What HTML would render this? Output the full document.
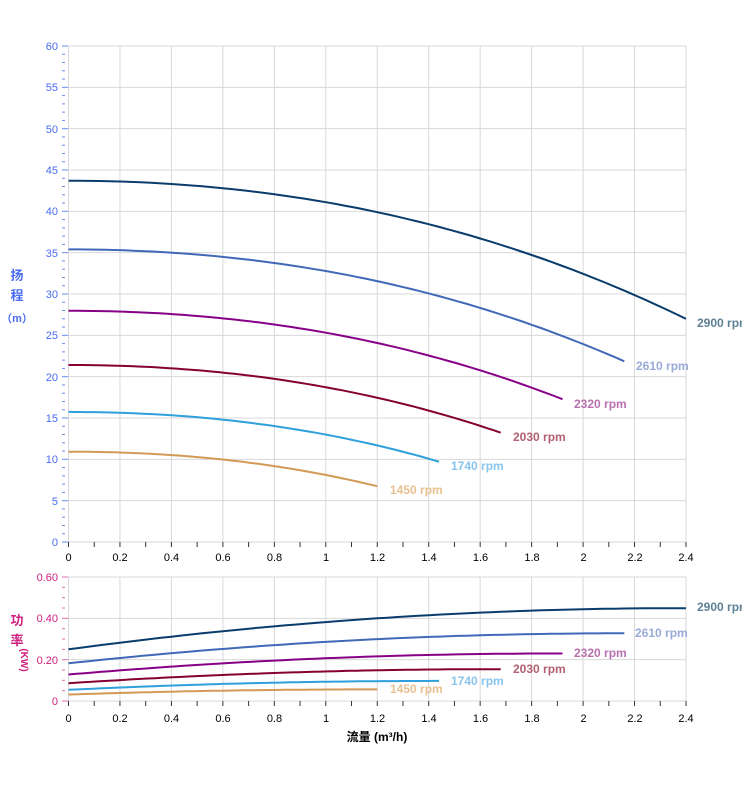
<!DOCTYPE html>
<html><head><meta charset="utf-8"><style>
body{margin:0;background:#fff;width:752px;height:797px;overflow:hidden}
svg{display:block;font-family:"Liberation Sans","Noto Sans CJK SC",sans-serif}
</style></head><body>
<svg id="s" width="752" height="797" xmlns="http://www.w3.org/2000/svg">
<defs><clipPath id="cp"><rect x="0" y="0" width="742" height="797"/></clipPath></defs>
<g id="grid" stroke="#d8d8d8" stroke-width="1"></g>
<g font-size="11" fill="#4a6cf0" text-anchor="end">
<text x="58" y="50">60</text><text x="58" y="91">55</text><text x="58" y="133">50</text><text x="58" y="174">45</text><text x="58" y="215">40</text><text x="58" y="257">35</text><text x="58" y="298">30</text><text x="58" y="339">25</text><text x="58" y="381">20</text><text x="58" y="422">15</text><text x="58" y="463">10</text><text x="58" y="505">5</text><text x="58" y="546">0</text>
</g>
<g font-size="11" fill="#d02080" text-anchor="end">
<text x="58" y="581">0.60</text><text x="58" y="622">0.40</text><text x="58" y="664">0.20</text><text x="58" y="705">0</text>
</g>
<g font-size="11" fill="#000" text-anchor="middle">
<text x="68.5" y="561">0</text><text x="120" y="561">0.2</text><text x="171.5" y="561">0.4</text><text x="223" y="561">0.6</text><text x="274.5" y="561">0.8</text><text x="326" y="561">1</text><text x="377.5" y="561">1.2</text><text x="429" y="561">1.4</text><text x="480.5" y="561">1.6</text><text x="532" y="561">1.8</text><text x="583.5" y="561">2</text><text x="635" y="561">2.2</text><text x="686" y="561">2.4</text>
<text x="68.5" y="722">0</text><text x="120" y="722">0.2</text><text x="171.5" y="722">0.4</text><text x="223" y="722">0.6</text><text x="274.5" y="722">0.8</text><text x="326" y="722">1</text><text x="377.5" y="722">1.2</text><text x="429" y="722">1.4</text><text x="480.5" y="722">1.6</text><text x="532" y="722">1.8</text><text x="583.5" y="722">2</text><text x="635" y="722">2.2</text><text x="686" y="722">2.4</text>
</g>
<g font-size="13" font-weight="bold" fill="#4a6cf0" text-anchor="middle"><text x="17" y="280">扬</text><text x="17" y="300">程</text><text x="17" y="322" font-size="11">（m）</text></g>
<g font-size="13" font-weight="bold" fill="#d02080" text-anchor="middle"><text x="17" y="625">功</text><text x="17" y="645">率</text><text x="0" y="0" font-size="10" transform="translate(21,660) rotate(90)">(KW)</text></g>
<text x="377" y="741" font-size="12" font-weight="bold" text-anchor="middle">流量 (m³/h)</text>
<g id="curves" fill="none" stroke-width="2"></g>
<g font-size="12" font-weight="bold" clip-path="url(#cp)">
<text x="697" y="327" fill="#5f8094">2900 rpm</text><text x="636" y="370" fill="#9aaad8">2610 rpm</text><text x="574" y="408" fill="#b870b0">2320 rpm</text><text x="513" y="441" fill="#b06070">2030 rpm</text><text x="451" y="470" fill="#88c4ec">1740 rpm</text><text x="390" y="494" fill="#e8c090">1450 rpm</text>
<text x="697" y="611" fill="#5f8094">2900 rpm</text><text x="635" y="637" fill="#9aaad8">2610 rpm</text><text x="574" y="657" fill="#b870b0">2320 rpm</text><text x="513" y="673" fill="#b06070">2030 rpm</text><text x="451" y="685" fill="#88c4ec">1740 rpm</text><text x="390" y="693" fill="#e8c090">1450 rpm</text>
</g>
</svg>
<script>
var N="http://www.w3.org/2000/svg",g=document.getElementById('grid'),c=document.getElementById('curves');
function el(p,t,a){var e=document.createElementNS(N,t);for(var k in a)e.setAttribute(k,a[k]);p.appendChild(e);return e}
var X=function(q){return 68.5+q*(686-68.5)/2.4};
for(var i=0;i<=12;i++){var x=X(i*0.2);el(g,'line',{x1:x,y1:46,x2:x,y2:542});el(g,'line',{x1:x,y1:577,x2:x,y2:701});}
for(var i=0;i<=12;i++){var y=46+i*496/12;el(g,'line',{x1:68.5,y1:y,x2:686,y2:y});}
for(var i=0;i<=3;i++){var y=577+i*124/3;el(g,'line',{x1:68.5,y1:y,x2:686,y2:y});}
for(var i=0;i<=24;i++){var x=X(i*0.1);el(g,'line',{x1:x,y1:542,x2:x,y2:547,stroke:'#333'});el(g,'line',{x1:x,y1:701,x2:x,y2:706,stroke:'#333'});}
for(var i=0;i<=60;i++){var y=46+i*496/60;el(g,'line',{x1:62,y1:y,x2:i%5?65:68,y2:y,stroke:'#6a8cf0'});}
for(var i=0;i<=12;i++){var y=577+i*124/12;el(g,'line',{x1:62,y1:y,x2:i%4?65:68,y2:y,stroke:'#e070b0'});}
var S=[[2900,'#0a3d6b'],[2610,'#4169b8'],[2320,'#880088'],[2030,'#850033'],[1740,'#2fa0dc'],[1450,'#d29a55']];
S.forEach(function(s){var r=s[0]/2900,qm=2.4*r,d='',e='';
for(var i=0;i<=60;i++){var q=qm*i/60,h=r*r*43.7-2.38*q*q-0.217*q*q*q/r,p=r*r*r*0.25+r*r*0.167*q-r*0.035*q*q;
d+=(i?'L':'M')+X(q).toFixed(1)+','+(542-h*496/60).toFixed(1);
e+=(i?'L':'M')+X(q).toFixed(1)+','+(701-p*124/0.6).toFixed(1);}
el(c,'path',{d:d,stroke:s[1]});el(c,'path',{d:e,stroke:s[1]});});
</script>
</body></html>
